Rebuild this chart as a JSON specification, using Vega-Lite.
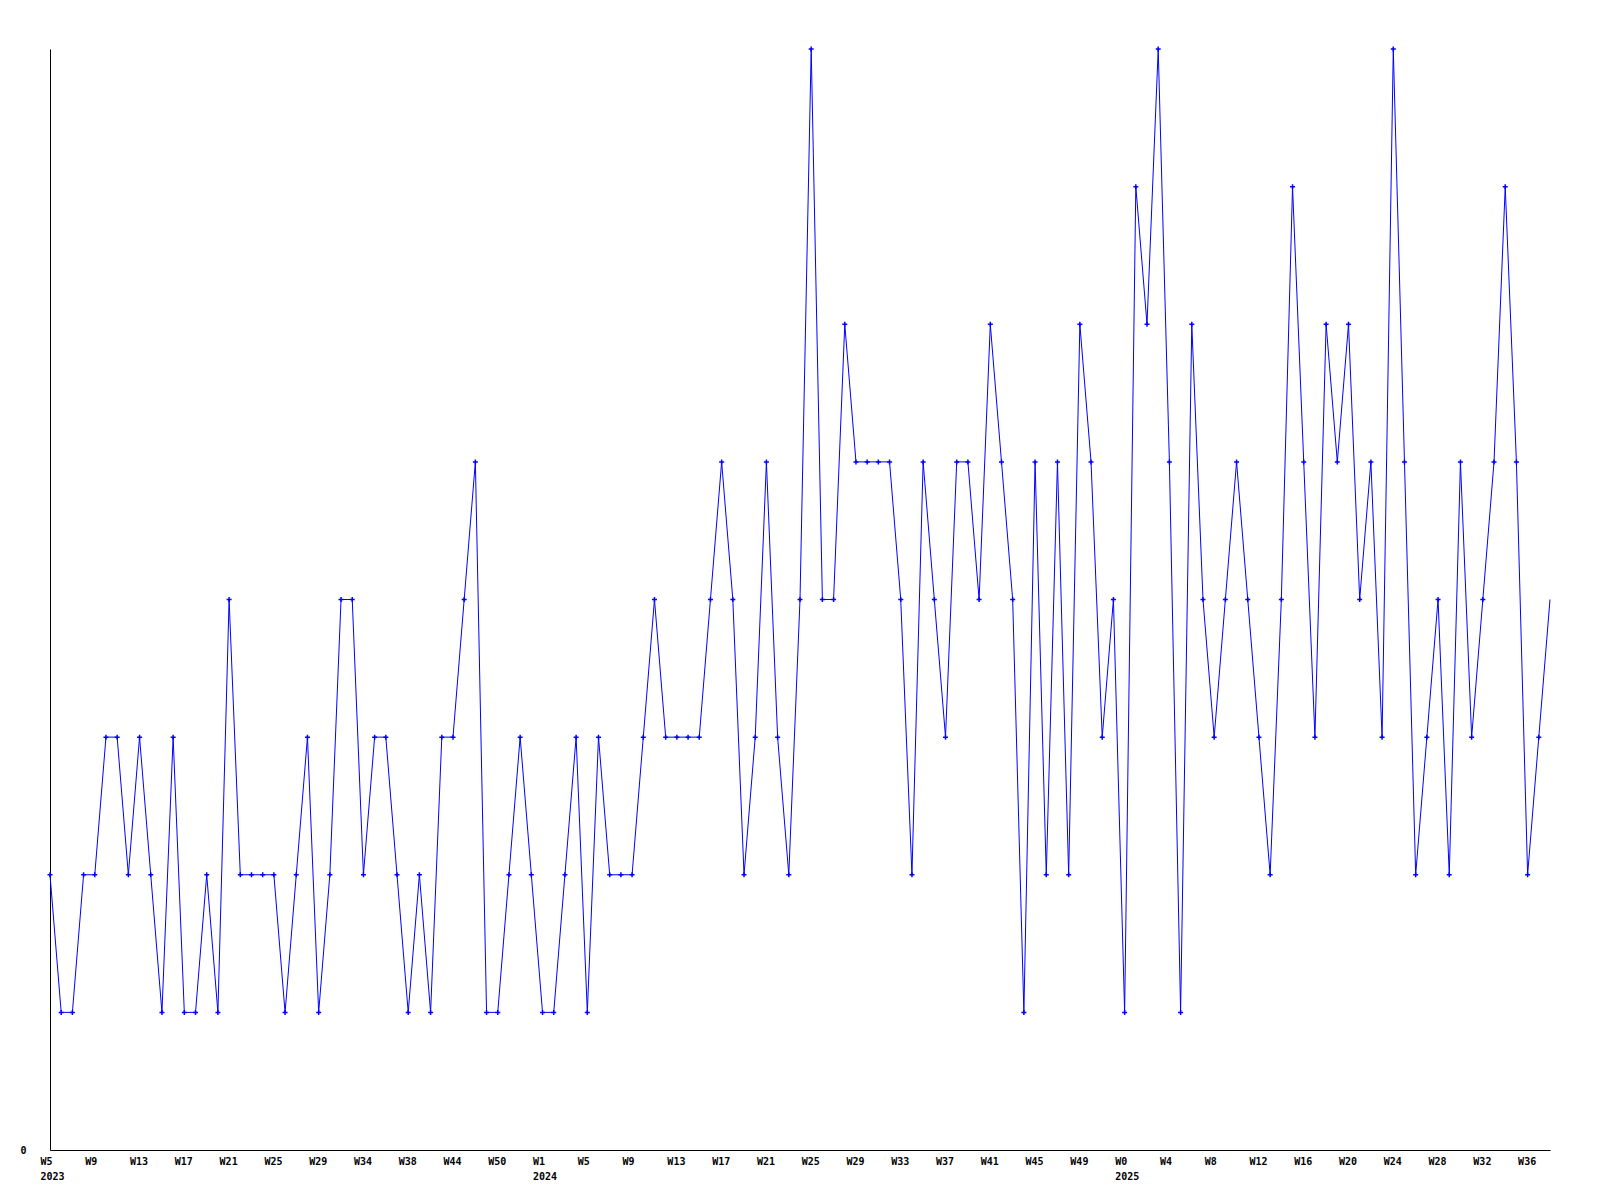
{
  "$schema": "https://vega.github.io/schema/vega-lite/v6.json",
  "width": 1500,
  "height": 1101,
  "autosize": {"type": "none"},
  "padding": {"left": 50, "top": 49, "right": 50, "bottom": 50},
  "background": "white",
  "config": {
    "view": {"stroke": null},
    "axis": {
      "grid": false,
      "ticks": false,
      "domainColor": "#000000",
      "domainWidth": 1,
      "labelFont": "DejaVu Sans Mono",
      "labelFontWeight": "bold",
      "labelFontSize": 10,
      "labelColor": "#000000",
      "title": null
    }
  },
  "data": {
    "values": [
      {"week": "2023-W5", "count": 2}, {"week": "2023-W6", "count": 1}, {"week": "2023-W7", "count": 1}, {"week": "2023-W8", "count": 2},
      {"week": "2023-W9", "count": 2}, {"week": "2023-W10", "count": 3}, {"week": "2023-W11", "count": 3}, {"week": "2023-W12", "count": 2},
      {"week": "2023-W13", "count": 3}, {"week": "2023-W14", "count": 2}, {"week": "2023-W15", "count": 1}, {"week": "2023-W16", "count": 3},
      {"week": "2023-W17", "count": 1}, {"week": "2023-W18", "count": 1}, {"week": "2023-W19", "count": 2}, {"week": "2023-W20", "count": 1},
      {"week": "2023-W21", "count": 4}, {"week": "2023-W22", "count": 2}, {"week": "2023-W23", "count": 2}, {"week": "2023-W24", "count": 2},
      {"week": "2023-W25", "count": 2}, {"week": "2023-W26", "count": 1}, {"week": "2023-W27", "count": 2}, {"week": "2023-W28", "count": 3},
      {"week": "2023-W29", "count": 1}, {"week": "2023-W31", "count": 2}, {"week": "2023-W32", "count": 4}, {"week": "2023-W33", "count": 4},
      {"week": "2023-W34", "count": 2}, {"week": "2023-W35", "count": 3}, {"week": "2023-W36", "count": 3}, {"week": "2023-W37", "count": 2},
      {"week": "2023-W38", "count": 1}, {"week": "2023-W40", "count": 2}, {"week": "2023-W41", "count": 1}, {"week": "2023-W42", "count": 3},
      {"week": "2023-W44", "count": 3}, {"week": "2023-W46", "count": 4}, {"week": "2023-W47", "count": 5}, {"week": "2023-W48", "count": 1},
      {"week": "2023-W50", "count": 1}, {"week": "2023-W51", "count": 2}, {"week": "2023-W52", "count": 3}, {"week": "2023-W53", "count": 2},
      {"week": "2024-W1", "count": 1}, {"week": "2024-W2", "count": 1}, {"week": "2024-W3", "count": 2}, {"week": "2024-W4", "count": 3},
      {"week": "2024-W5", "count": 1}, {"week": "2024-W6", "count": 3}, {"week": "2024-W7", "count": 2}, {"week": "2024-W8", "count": 2},
      {"week": "2024-W9", "count": 2}, {"week": "2024-W10", "count": 3}, {"week": "2024-W11", "count": 4}, {"week": "2024-W12", "count": 3},
      {"week": "2024-W13", "count": 3}, {"week": "2024-W14", "count": 3}, {"week": "2024-W15", "count": 3}, {"week": "2024-W16", "count": 4},
      {"week": "2024-W17", "count": 5}, {"week": "2024-W18", "count": 4}, {"week": "2024-W19", "count": 2}, {"week": "2024-W20", "count": 3},
      {"week": "2024-W21", "count": 5}, {"week": "2024-W22", "count": 3}, {"week": "2024-W23", "count": 2}, {"week": "2024-W24", "count": 4},
      {"week": "2024-W25", "count": 8}, {"week": "2024-W26", "count": 4}, {"week": "2024-W27", "count": 4}, {"week": "2024-W28", "count": 6},
      {"week": "2024-W29", "count": 5}, {"week": "2024-W30", "count": 5}, {"week": "2024-W31", "count": 5}, {"week": "2024-W32", "count": 5},
      {"week": "2024-W33", "count": 4}, {"week": "2024-W34", "count": 2}, {"week": "2024-W35", "count": 5}, {"week": "2024-W36", "count": 4},
      {"week": "2024-W37", "count": 3}, {"week": "2024-W38", "count": 5}, {"week": "2024-W39", "count": 5}, {"week": "2024-W40", "count": 4},
      {"week": "2024-W41", "count": 6}, {"week": "2024-W42", "count": 5}, {"week": "2024-W43", "count": 4}, {"week": "2024-W44", "count": 1},
      {"week": "2024-W45", "count": 5}, {"week": "2024-W46", "count": 2}, {"week": "2024-W47", "count": 5}, {"week": "2024-W48", "count": 2},
      {"week": "2024-W49", "count": 6}, {"week": "2024-W50", "count": 5}, {"week": "2024-W51", "count": 3}, {"week": "2024-W52", "count": 4},
      {"week": "2025-W0", "count": 1}, {"week": "2025-W1", "count": 7}, {"week": "2025-W2", "count": 6}, {"week": "2025-W3", "count": 8},
      {"week": "2025-W4", "count": 5}, {"week": "2025-W5", "count": 1}, {"week": "2025-W6", "count": 6}, {"week": "2025-W7", "count": 4},
      {"week": "2025-W8", "count": 3}, {"week": "2025-W9", "count": 4}, {"week": "2025-W10", "count": 5}, {"week": "2025-W11", "count": 4},
      {"week": "2025-W12", "count": 3}, {"week": "2025-W13", "count": 2}, {"week": "2025-W14", "count": 4}, {"week": "2025-W15", "count": 7},
      {"week": "2025-W16", "count": 5}, {"week": "2025-W17", "count": 3}, {"week": "2025-W18", "count": 6}, {"week": "2025-W19", "count": 5},
      {"week": "2025-W20", "count": 6}, {"week": "2025-W21", "count": 4}, {"week": "2025-W22", "count": 5}, {"week": "2025-W23", "count": 3},
      {"week": "2025-W24", "count": 8}, {"week": "2025-W25", "count": 5}, {"week": "2025-W26", "count": 2}, {"week": "2025-W27", "count": 3},
      {"week": "2025-W28", "count": 4}, {"week": "2025-W29", "count": 2}, {"week": "2025-W30", "count": 5}, {"week": "2025-W31", "count": 3},
      {"week": "2025-W32", "count": 4}, {"week": "2025-W33", "count": 5}, {"week": "2025-W34", "count": 7}, {"week": "2025-W35", "count": 5},
      {"week": "2025-W36", "count": 2}, {"week": "2025-W37", "count": 3}, {"week": "2025-W38", "count": 4}
    ]
  },
  "encoding": {
    "x": {
      "field": "week",
      "type": "ordinal",
      "sort": null,
      "scale": {"type": "point", "padding": 0},
      "axis": {
        "values": ["2023-W5", "2023-W9", "2023-W13", "2023-W17", "2023-W21", "2023-W25", "2023-W29", "2023-W34", "2023-W38", "2023-W44", "2023-W50",
                   "2024-W1", "2024-W5", "2024-W9", "2024-W13", "2024-W17", "2024-W21", "2024-W25", "2024-W29", "2024-W33", "2024-W37", "2024-W41", "2024-W45", "2024-W49",
                   "2025-W0", "2025-W4", "2025-W8", "2025-W12", "2025-W16", "2025-W20", "2025-W24", "2025-W28", "2025-W32", "2025-W36"],
        "labelExpr": "indexof(['2023-W5','2024-W1','2025-W0'], datum.value) >= 0 ? [split(datum.value,'-')[1], split(datum.value,'-')[0]] : split(datum.value,'-')[1]",
        "labelAlign": "left",
        "labelOffset": -10,
        "labelAngle": 0,
        "labelPadding": 6,
        "labelLineHeight": 15,
        "labelFlush": false,
        "labelOverlap": false,
        "labelBound": false
      }
    },
    "y": {
      "field": "count",
      "type": "quantitative",
      "scale": {"domain": [0, 8], "nice": false, "zero": true},
      "axis": {"values": [0], "labelPadding": 24, "labelFlush": false, "labelBaseline": "middle"}
    }
  },
  "layer": [
    {"mark": {"type": "line", "color": "#0000FF", "strokeWidth": 1, "interpolate": "linear"}},
    {
      "transform": [{"filter": "datum.week !== '2025-W38'"}],
      "mark": {"type": "point", "shape": "M-1,0H1M0,-1V1", "size": 25, "filled": false, "stroke": "#0000FF", "strokeWidth": 1.5, "opacity": 1}
    }
  ]
}
